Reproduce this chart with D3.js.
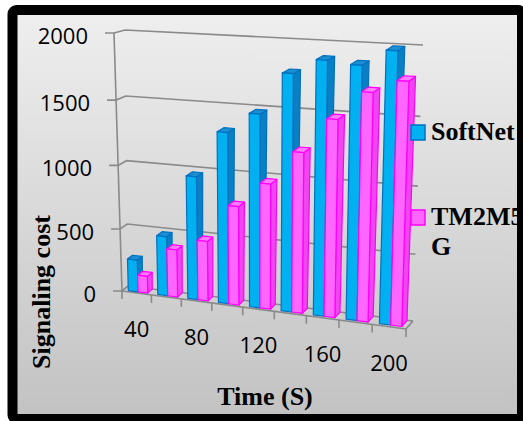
<!DOCTYPE html>
<html lang="en">
<head>
<meta charset="UTF-8">
<title>Signaling cost</title>
<script src="https://d3js.org/d3.v7.min.js"></script>
<style>
  body { margin: 0; background: #fff; }
  svg { display: block; }
</style>
</head>
<body>
<svg id="svg" width="523" height="421"></svg>
<script>
  var categories = ["40", "60", "80", "100", "120", "140", "160", "180", "200"]
  var softnet = [255, 470, 960, 1315, 1470, 1780, 1890, 1870, 1985]
  var tm2m5g = [135, 375, 470, 765, 960, 1215, 1475, 1685, 1780]
  var yTicks = [0, 500, 1000, 1500, 2000]
  var seriesNames = ["SoftNet", "TM2M5G"]

  var colors = [
    { front: "#00b0f0", side: "#0a7fc4", top: "#1b8fd2", stroke: "#0070c0" },
    { front: "#ff66ff", side: "#f046f0", top: "#ff7cff", stroke: "#ff00ff" }
  ]

  // perspective box: front plane and back wall (bottom-left, bottom-right, top-right, top-left)
  var frontQuad = [[122, 291], [406, 329], [414, 51], [114, 33]]
  var backQuad = [[128, 286], [413, 321], [423, 45], [125, 30]]

  function quadMap(q) {
    var x0 = q[0][0], y0 = q[0][1], x1 = q[1][0], y1 = q[1][1]
    var x2 = q[2][0], y2 = q[2][1], x3 = q[3][0], y3 = q[3][1]
    var sx = x0 - x1 + x2 - x3, sy = y0 - y1 + y2 - y3
    var dx1 = x1 - x2, dx2 = x3 - x2, dy1 = y1 - y2, dy2 = y3 - y2
    var det = dx1 * dy2 - dx2 * dy1
    var g = (sx * dy2 - dx2 * sy) / det, h = (dx1 * sy - sx * dy1) / det
    var a = x1 - x0 + g * x1, b = x3 - x0 + h * x3
    var d = y1 - y0 + g * y1, e = y3 - y0 + h * y3
    return function (s, t) {
      var w = g * s + h * t + 1
      return [(a * s + b * t + x0) / w, (d * s + e * t + y0) / w]
    }
  }
  var front = quadMap(frontQuad), back = quadMap(backQuad)
  function P(u, t, z) {
    var f = front(u, t), b = back(u, t)
    return [f[0] + (b[0] - f[0]) * z, f[1] + (b[1] - f[1]) * z]
  }

  var x = d3.scaleBand().domain(categories).range([0, 1])
  var y = d3.scaleLinear().domain([0, 2000]).range([0, 1])
  var line = d3.line()

  var svg = d3.select('#svg')
  var defs = svg.append('defs')
  var grad = defs.append('linearGradient').attr('id', 'bg')
    .attr('x1', 0).attr('y1', 0).attr('x2', 0).attr('y2', 1)
  grad.append('stop').attr('offset', '0%').attr('stop-color', '#efefef')
  grad.append('stop').attr('offset', '100%').attr('stop-color', '#c2c2c2')

  svg.append('rect').attr('x', 12).attr('y', 10).attr('width', 510).attr('height', 409)
    .style('fill', 'url(#bg)')

  var gridColor = '#8a8a8a'
  var grid = svg.append('g').style('stroke', gridColor).style('stroke-width', 1.6).style('fill', 'none')

  // gridlines on side wall and back wall, plus ticks
  yTicks.forEach(function (v) {
    var t = y(v)
    var p0 = P(0, t, 0), p1 = P(0, t, 1), p2 = P(1, t, 1)
    grid.append('path').attr('d', line([[p0[0] - 9, p0[1]], p0, p1, p2]))
    svg.append('text')
      .attr('x', p0[0] - 26).attr('y', p0[1] + 2)
      .attr('text-anchor', 'end').attr('dominant-baseline', 'central')
      .style('font-family', 'Open Sans, Liberation Sans, sans-serif')
      .style('font-size', '22px').style('fill', '#000')
      .text(v)
  })
  // value axis line
  grid.append('path').attr('d', line([P(0, 0, 0), P(0, 1, 0)]))
  // floor edges
  grid.append('path').attr('d', line([P(0, 0, 1), P(0, 0, 0), P(1, 0, 0), P(1, 0, 1)]))
  // category ticks
  d3.range(categories.length + 1).forEach(function (k) {
    var p = P(k / categories.length, 0, 0)
    grid.append('path').attr('d', line([p, [p[0], p[1] + 8]]))
  })

  // bars
  var bw = x.bandwidth()
  var z0 = 0.22, z1 = 0.97
  var bars = svg.append('g')
  categories.forEach(function (c, i) {
    [softnet[i], tm2m5g[i]].forEach(function (v, k) {
      var u0 = x(c) + bw * (0.17 + 0.33 * k), u1 = u0 + bw * 0.33, t = y(v)
      var col = colors[k]
      var g = bars.append('g').style('stroke', col.stroke).style('stroke-width', 1.2)
        .style('stroke-linejoin', 'round')
      g.append('path').attr('d', line([P(u1, 0, z0), P(u1, 0, z1), P(u1, t, z1), P(u1, t, z0)]) + 'Z')
        .style('fill', col.side)
      g.append('path').attr('d', line([P(u0, t, z0), P(u1, t, z0), P(u1, t, z1), P(u0, t, z1)]) + 'Z')
        .style('fill', col.top)
      g.append('path').attr('d', line([P(u0, 0, z0), P(u1, 0, z0), P(u1, t, z0), P(u0, t, z0)]) + 'Z')
        .style('fill', col.front)
    })
  })

  // category labels (every other)
  categories.forEach(function (c, i) {
    if (i % 2) return
    var p = P(x(c) + bw / 2, 0, 0)
    svg.append('text')
      .attr('x', p[0]).attr('y', p[1] + 35)
      .attr('text-anchor', 'middle').attr('dominant-baseline', 'central')
      .style('font-family', 'Open Sans, Liberation Sans, sans-serif')
      .style('font-size', '22px').style('fill', '#000')
      .text(c)
  })

  // axis titles
  var serif = 'Liberation Serif, Times New Roman, serif'
  svg.append('text')
    .attr('x', 265).attr('y', 405).attr('text-anchor', 'middle')
    .style('font-family', serif).style('font-weight', 'bold').style('font-size', '26px')
    .text('Time (S)')
  svg.append('text')
    .attr('transform', 'translate(50,292) rotate(-90)').attr('text-anchor', 'middle')
    .style('font-family', serif).style('font-weight', 'bold').style('font-size', '26px')
    .text('Signaling cost')

  // legend
  var legend = svg.append('g')
  var legendRows = [
    { y: 125, lines: ["SoftNet"] },
    { y: 210, lines: ["TM2M5", "G"] }
  ]
  legendRows.forEach(function (r, k) {
    legend.append('rect').attr('x', 411).attr('y', r.y).attr('width', 14).attr('height', 15)
      .style('fill', colors[k].front).style('stroke', colors[k].stroke).style('stroke-width', 1.5)
    r.lines.forEach(function (s, j) {
      legend.append('text')
        .attr('x', 431).attr('y', r.y + 15 + j * 30)
        .style('font-family', serif).style('font-weight', 'bold').style('font-size', '26px')
        .text(s)
    })
  })

  // frame
  svg.append('rect').attr('x', 12.5).attr('y', 10).attr('width', 509.5).attr('height', 409)
    .attr('rx', 4)
    .style('fill', 'none').style('stroke', '#000').style('stroke-width', 10)
</script>
</body>
</html>
